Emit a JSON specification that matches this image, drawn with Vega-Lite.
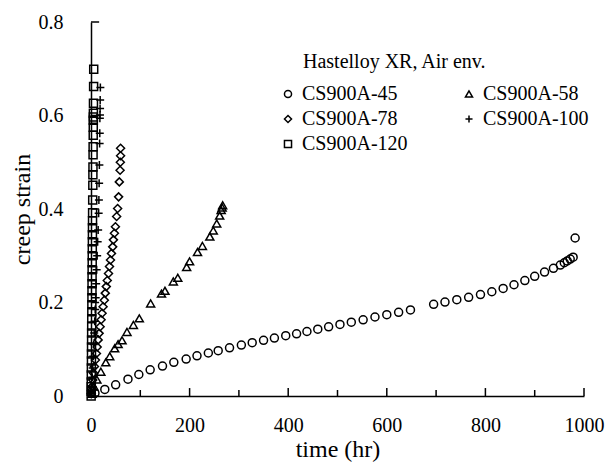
{
  "$schema": "https://vega.github.io/schema/vega-lite/v6.json",
  "width": 493,
  "height": 374,
  "autosize": {"type": "none"},
  "padding": {"left": 91, "top": 22, "right": 22, "bottom": 71},
  "background": "white",
  "config": {
    "view": {"stroke": null},
    "font": "Liberation Serif",
    "axis": {
      "grid": false,
      "ticks": false,
      "domainColor": "black",
      "domainWidth": 1.5,
      "labelColor": "black",
      "titleColor": "black",
      "labelFont": "Liberation Serif",
      "titleFont": "Liberation Serif",
      "labelFontSize": 20,
      "titleFontSize": 24,
      "titleFontWeight": "normal"
    }
  },
  "datasets": {
    "creep": [
      {"specimen": "CS900A-45", "time": 8, "strain": 0.006},
      {"specimen": "CS900A-45", "time": 28, "strain": 0.014},
      {"specimen": "CS900A-45", "time": 50, "strain": 0.024},
      {"specimen": "CS900A-45", "time": 75, "strain": 0.036},
      {"specimen": "CS900A-45", "time": 97, "strain": 0.046},
      {"specimen": "CS900A-45", "time": 120, "strain": 0.056},
      {"specimen": "CS900A-45", "time": 145, "strain": 0.064},
      {"specimen": "CS900A-45", "time": 168, "strain": 0.072},
      {"specimen": "CS900A-45", "time": 193, "strain": 0.079},
      {"specimen": "CS900A-45", "time": 215, "strain": 0.086},
      {"specimen": "CS900A-45", "time": 238, "strain": 0.092},
      {"specimen": "CS900A-45", "time": 258, "strain": 0.097},
      {"specimen": "CS900A-45", "time": 281, "strain": 0.103},
      {"specimen": "CS900A-45", "time": 305, "strain": 0.109},
      {"specimen": "CS900A-45", "time": 327, "strain": 0.114},
      {"specimen": "CS900A-45", "time": 350, "strain": 0.119},
      {"specimen": "CS900A-45", "time": 372, "strain": 0.124},
      {"specimen": "CS900A-45", "time": 395, "strain": 0.129},
      {"specimen": "CS900A-45", "time": 417, "strain": 0.133},
      {"specimen": "CS900A-45", "time": 438, "strain": 0.138},
      {"specimen": "CS900A-45", "time": 460, "strain": 0.143},
      {"specimen": "CS900A-45", "time": 482, "strain": 0.148},
      {"specimen": "CS900A-45", "time": 505, "strain": 0.153},
      {"specimen": "CS900A-45", "time": 528, "strain": 0.158},
      {"specimen": "CS900A-45", "time": 552, "strain": 0.163},
      {"specimen": "CS900A-45", "time": 576, "strain": 0.169},
      {"specimen": "CS900A-45", "time": 600, "strain": 0.174},
      {"specimen": "CS900A-45", "time": 624, "strain": 0.179},
      {"specimen": "CS900A-45", "time": 648, "strain": 0.184},
      {"specimen": "CS900A-45", "time": 695, "strain": 0.196},
      {"specimen": "CS900A-45", "time": 718, "strain": 0.201},
      {"specimen": "CS900A-45", "time": 742, "strain": 0.206},
      {"specimen": "CS900A-45", "time": 766, "strain": 0.211},
      {"specimen": "CS900A-45", "time": 790, "strain": 0.217},
      {"specimen": "CS900A-45", "time": 813, "strain": 0.223},
      {"specimen": "CS900A-45", "time": 836, "strain": 0.230},
      {"specimen": "CS900A-45", "time": 858, "strain": 0.238},
      {"specimen": "CS900A-45", "time": 880, "strain": 0.247},
      {"specimen": "CS900A-45", "time": 900, "strain": 0.256},
      {"specimen": "CS900A-45", "time": 920, "strain": 0.265},
      {"specimen": "CS900A-45", "time": 938, "strain": 0.273},
      {"specimen": "CS900A-45", "time": 952, "strain": 0.280},
      {"specimen": "CS900A-45", "time": 960, "strain": 0.285},
      {"specimen": "CS900A-45", "time": 966, "strain": 0.289},
      {"specimen": "CS900A-45", "time": 972, "strain": 0.293},
      {"specimen": "CS900A-45", "time": 978, "strain": 0.297},
      {"specimen": "CS900A-45", "time": 982, "strain": 0.338},

      {"specimen": "CS900A-58", "time": 2, "strain": 0.005},
      {"specimen": "CS900A-58", "time": 6, "strain": 0.02},
      {"specimen": "CS900A-58", "time": 12, "strain": 0.035},
      {"specimen": "CS900A-58", "time": 20, "strain": 0.052},
      {"specimen": "CS900A-58", "time": 30, "strain": 0.072},
      {"specimen": "CS900A-58", "time": 38, "strain": 0.085},
      {"specimen": "CS900A-58", "time": 48, "strain": 0.102},
      {"specimen": "CS900A-58", "time": 55, "strain": 0.111},
      {"specimen": "CS900A-58", "time": 63, "strain": 0.119},
      {"specimen": "CS900A-58", "time": 73, "strain": 0.137},
      {"specimen": "CS900A-58", "time": 86, "strain": 0.152},
      {"specimen": "CS900A-58", "time": 98, "strain": 0.166},
      {"specimen": "CS900A-58", "time": 121, "strain": 0.198},
      {"specimen": "CS900A-58", "time": 143, "strain": 0.219},
      {"specimen": "CS900A-58", "time": 150, "strain": 0.225},
      {"specimen": "CS900A-58", "time": 167, "strain": 0.245},
      {"specimen": "CS900A-58", "time": 176, "strain": 0.253},
      {"specimen": "CS900A-58", "time": 194, "strain": 0.276},
      {"specimen": "CS900A-58", "time": 200, "strain": 0.288},
      {"specimen": "CS900A-58", "time": 216, "strain": 0.308},
      {"specimen": "CS900A-58", "time": 226, "strain": 0.321},
      {"specimen": "CS900A-58", "time": 241, "strain": 0.341},
      {"specimen": "CS900A-58", "time": 248, "strain": 0.354},
      {"specimen": "CS900A-58", "time": 255, "strain": 0.369},
      {"specimen": "CS900A-58", "time": 261, "strain": 0.386},
      {"specimen": "CS900A-58", "time": 264, "strain": 0.398},
      {"specimen": "CS900A-58", "time": 266, "strain": 0.403},
      {"specimen": "CS900A-58", "time": 267, "strain": 0.408},

      {"specimen": "CS900A-78", "time": 0.5, "strain": 0.005},
      {"specimen": "CS900A-78", "time": 1, "strain": 0.012},
      {"specimen": "CS900A-78", "time": 2, "strain": 0.02},
      {"specimen": "CS900A-78", "time": 3.5, "strain": 0.034},
      {"specimen": "CS900A-78", "time": 5, "strain": 0.049},
      {"specimen": "CS900A-78", "time": 7, "strain": 0.063},
      {"specimen": "CS900A-78", "time": 9, "strain": 0.077},
      {"specimen": "CS900A-78", "time": 11, "strain": 0.091},
      {"specimen": "CS900A-78", "time": 12.5, "strain": 0.105},
      {"specimen": "CS900A-78", "time": 14.5, "strain": 0.12},
      {"specimen": "CS900A-78", "time": 16.5, "strain": 0.134},
      {"specimen": "CS900A-78", "time": 18.5, "strain": 0.148},
      {"specimen": "CS900A-78", "time": 20.5, "strain": 0.163},
      {"specimen": "CS900A-78", "time": 22.5, "strain": 0.177},
      {"specimen": "CS900A-78", "time": 24.5, "strain": 0.191},
      {"specimen": "CS900A-78", "time": 27, "strain": 0.205},
      {"specimen": "CS900A-78", "time": 29, "strain": 0.22},
      {"specimen": "CS900A-78", "time": 31, "strain": 0.234},
      {"specimen": "CS900A-78", "time": 33, "strain": 0.247},
      {"specimen": "CS900A-78", "time": 35.5, "strain": 0.262},
      {"specimen": "CS900A-78", "time": 37.5, "strain": 0.277},
      {"specimen": "CS900A-78", "time": 39.5, "strain": 0.291},
      {"specimen": "CS900A-78", "time": 41.5, "strain": 0.305},
      {"specimen": "CS900A-78", "time": 44, "strain": 0.319},
      {"specimen": "CS900A-78", "time": 45.5, "strain": 0.334},
      {"specimen": "CS900A-78", "time": 47.5, "strain": 0.348},
      {"specimen": "CS900A-78", "time": 49.5, "strain": 0.362},
      {"specimen": "CS900A-78", "time": 52, "strain": 0.384},
      {"specimen": "CS900A-78", "time": 54, "strain": 0.401},
      {"specimen": "CS900A-78", "time": 56, "strain": 0.426},
      {"specimen": "CS900A-78", "time": 57.5, "strain": 0.458},
      {"specimen": "CS900A-78", "time": 59, "strain": 0.483},
      {"specimen": "CS900A-78", "time": 59.5, "strain": 0.5},
      {"specimen": "CS900A-78", "time": 60, "strain": 0.514},
      {"specimen": "CS900A-78", "time": 60, "strain": 0.53},

      {"specimen": "CS900A-100", "time": 0.5, "strain": 0.005},
      {"specimen": "CS900A-100", "time": 1.5, "strain": 0.02},
      {"specimen": "CS900A-100", "time": 2.5, "strain": 0.04},
      {"specimen": "CS900A-100", "time": 3.5, "strain": 0.06},
      {"specimen": "CS900A-100", "time": 4.5, "strain": 0.085},
      {"specimen": "CS900A-100", "time": 5.5, "strain": 0.11},
      {"specimen": "CS900A-100", "time": 6.5, "strain": 0.135},
      {"specimen": "CS900A-100", "time": 7.5, "strain": 0.16},
      {"specimen": "CS900A-100", "time": 8.5, "strain": 0.185},
      {"specimen": "CS900A-100", "time": 9.5, "strain": 0.21},
      {"specimen": "CS900A-100", "time": 10.5, "strain": 0.24},
      {"specimen": "CS900A-100", "time": 11.5, "strain": 0.27},
      {"specimen": "CS900A-100", "time": 12.5, "strain": 0.3},
      {"specimen": "CS900A-100", "time": 13.5, "strain": 0.33},
      {"specimen": "CS900A-100", "time": 14.5, "strain": 0.355},
      {"specimen": "CS900A-100", "time": 15.5, "strain": 0.391},
      {"specimen": "CS900A-100", "time": 16, "strain": 0.419},
      {"specimen": "CS900A-100", "time": 16.5, "strain": 0.455},
      {"specimen": "CS900A-100", "time": 17, "strain": 0.494},
      {"specimen": "CS900A-100", "time": 17.5, "strain": 0.54},
      {"specimen": "CS900A-100", "time": 17.8, "strain": 0.562},
      {"specimen": "CS900A-100", "time": 18, "strain": 0.594},
      {"specimen": "CS900A-100", "time": 18.2, "strain": 0.601},
      {"specimen": "CS900A-100", "time": 18.4, "strain": 0.615},
      {"specimen": "CS900A-100", "time": 18.6, "strain": 0.633},
      {"specimen": "CS900A-100", "time": 19, "strain": 0.66},

      {"specimen": "CS900A-120", "time": 0.3, "strain": 0.0},
      {"specimen": "CS900A-120", "time": 0.4, "strain": 0.01},
      {"specimen": "CS900A-120", "time": 0.45, "strain": 0.02},
      {"specimen": "CS900A-120", "time": 0.5, "strain": 0.03},
      {"specimen": "CS900A-120", "time": 0.6, "strain": 0.045},
      {"specimen": "CS900A-120", "time": 0.75, "strain": 0.06},
      {"specimen": "CS900A-120", "time": 0.9, "strain": 0.075},
      {"specimen": "CS900A-120", "time": 1.0, "strain": 0.09},
      {"specimen": "CS900A-120", "time": 1.1, "strain": 0.105},
      {"specimen": "CS900A-120", "time": 1.2, "strain": 0.12},
      {"specimen": "CS900A-120", "time": 1.3, "strain": 0.135},
      {"specimen": "CS900A-120", "time": 1.4, "strain": 0.15},
      {"specimen": "CS900A-120", "time": 1.5, "strain": 0.165},
      {"specimen": "CS900A-120", "time": 1.65, "strain": 0.18},
      {"specimen": "CS900A-120", "time": 1.75, "strain": 0.195},
      {"specimen": "CS900A-120", "time": 1.9, "strain": 0.21},
      {"specimen": "CS900A-120", "time": 2.0, "strain": 0.225},
      {"specimen": "CS900A-120", "time": 2.1, "strain": 0.24},
      {"specimen": "CS900A-120", "time": 2.2, "strain": 0.255},
      {"specimen": "CS900A-120", "time": 2.3, "strain": 0.27},
      {"specimen": "CS900A-120", "time": 2.45, "strain": 0.285},
      {"specimen": "CS900A-120", "time": 2.55, "strain": 0.3},
      {"specimen": "CS900A-120", "time": 2.65, "strain": 0.315},
      {"specimen": "CS900A-120", "time": 2.8, "strain": 0.33},
      {"specimen": "CS900A-120", "time": 2.9, "strain": 0.345},
      {"specimen": "CS900A-120", "time": 3.0, "strain": 0.36},
      {"specimen": "CS900A-120", "time": 3.1, "strain": 0.375},
      {"specimen": "CS900A-120", "time": 3.25, "strain": 0.392},
      {"specimen": "CS900A-120", "time": 3.45, "strain": 0.419},
      {"specimen": "CS900A-120", "time": 3.7, "strain": 0.451},
      {"specimen": "CS900A-120", "time": 3.85, "strain": 0.473},
      {"specimen": "CS900A-120", "time": 4.0, "strain": 0.49},
      {"specimen": "CS900A-120", "time": 4.2, "strain": 0.516},
      {"specimen": "CS900A-120", "time": 4.3, "strain": 0.533},
      {"specimen": "CS900A-120", "time": 4.5, "strain": 0.558},
      {"specimen": "CS900A-120", "time": 4.6, "strain": 0.575},
      {"specimen": "CS900A-120", "time": 4.7, "strain": 0.59},
      {"specimen": "CS900A-120", "time": 4.8, "strain": 0.597},
      {"specimen": "CS900A-120", "time": 4.85, "strain": 0.605},
      {"specimen": "CS900A-120", "time": 5.0, "strain": 0.626},
      {"specimen": "CS900A-120", "time": 5.3, "strain": 0.662},
      {"specimen": "CS900A-120", "time": 5.5, "strain": 0.699}
    ],
    "majorTimeTicks": [{"time": 0}, {"time": 200}, {"time": 400}, {"time": 600}, {"time": 800}, {"time": 1000}],
    "minorTimeTicks": [{"time": 100}, {"time": 300}, {"time": 500}, {"time": 700}, {"time": 900}],
    "strainTicks": [{"strain": 0}, {"strain": 0.2}, {"strain": 0.4}, {"strain": 0.6}, {"strain": 0.8}]
  },
  "layer": [
    {
      "data": {"name": "creep"},
      "mark": {"type": "point", "filled": false, "color": "black", "strokeWidth": 1.5, "size": 64, "opacity": 1},
      "encoding": {
        "x": {
          "field": "time",
          "type": "quantitative",
          "scale": {"domain": [0, 1000], "nice": false},
          "axis": {
            "orient": "bottom",
            "title": "time (hr)",
            "titleFontWeight": "normal",
            "values": [0, 200, 400, 600, 800, 1000],
            "format": "d",
            "ticks": false,
            "labelPadding": 19,
            "titlePadding": 2,
            "labelFlush": false,
            "labelOverlap": false
          }
        },
        "y": {
          "field": "strain",
          "type": "quantitative",
          "scale": {"domain": [0, 0.8], "nice": false},
          "axis": {
            "orient": "left",
            "title": "creep strain",
            "titleFontWeight": "normal",
            "values": [0, 0.2, 0.4, 0.6, 0.8],
            "labelExpr": "datum.value === 0 ? '0' : format(datum.value, '.1f')",
            "ticks": false,
            "labelPadding": 28,
            "titlePadding": 4,
            "labelFlush": false,
            "labelOverlap": false
          }
        },
        "shape": {
          "field": "specimen",
          "type": "nominal",
          "scale": {
            "domain": ["CS900A-45", "CS900A-58", "CS900A-78", "CS900A-100", "CS900A-120"],
            "range": ["circle", "triangle-up", "diamond", "M-1,0L1,0M0,-1L0,1", "square"]
          },
          "legend": {
            "title": "Hastelloy XR, Air env.",
            "orient": "none",
            "direction": "horizontal",
            "legendX": 212,
            "legendY": 30,
            "columns": 2,
            "columnPadding": 54,
            "rowPadding": 5,
            "symbolSize": 50,
            "symbolStrokeWidth": 1.5,
            "symbolStrokeColor": "black",
            "symbolOffset": -25,
            "labelOffset": 4,
            "labelFont": "Liberation Serif",
            "labelFontSize": 20,
            "labelColor": "black",
            "labelLimit": 300,
            "titleFont": "Liberation Serif",
            "titleFontSize": 20,
            "titleFontWeight": "normal",
            "titleColor": "black",
            "titlePadding": 12,
            "titleLimit": 400
          }
        }
      }
    },
    {
      "data": {"name": "majorTimeTicks"},
      "mark": {"type": "rule", "color": "black", "strokeWidth": 1.5},
      "encoding": {
        "x": {"field": "time", "type": "quantitative"},
        "y": {"datum": 0, "type": "quantitative"},
        "y2": {"datum": 0.017}
      }
    },
    {
      "data": {"name": "minorTimeTicks"},
      "mark": {"type": "rule", "color": "black", "strokeWidth": 1.5},
      "encoding": {
        "x": {"field": "time", "type": "quantitative"},
        "y": {"datum": 0, "type": "quantitative"},
        "y2": {"datum": 0.0128}
      }
    },
    {
      "data": {"name": "strainTicks"},
      "mark": {"type": "rule", "color": "black", "strokeWidth": 1.5},
      "encoding": {
        "y": {"field": "strain", "type": "quantitative"},
        "x": {"datum": 0, "type": "quantitative"},
        "x2": {"datum": 16.5}
      }
    }
  ]
}
